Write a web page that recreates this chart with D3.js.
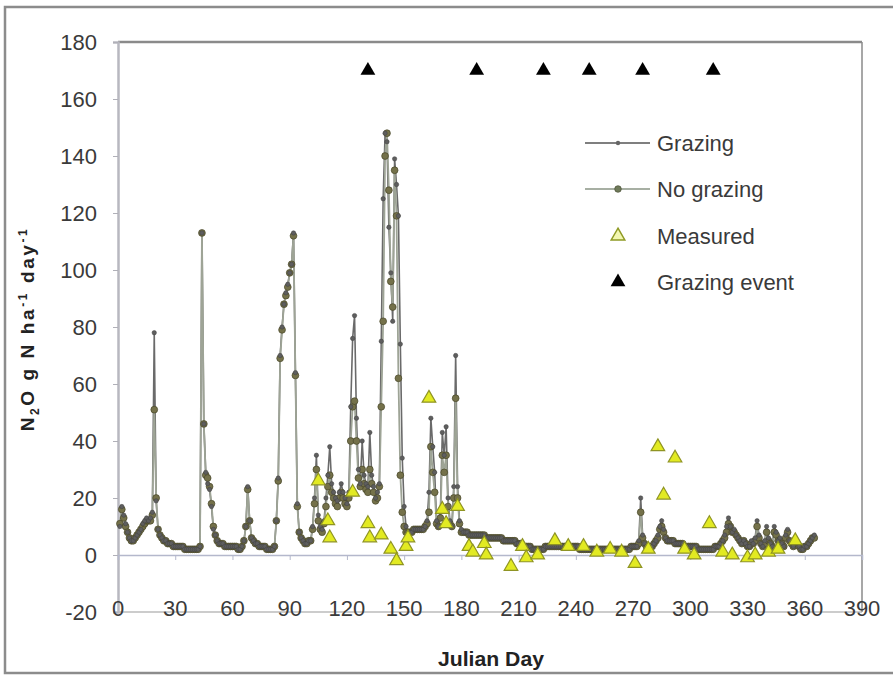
<!DOCTYPE html>
<html>
<head>
<meta charset="utf-8">
<script src="https://cdn.jsdelivr.net/npm/d3@7"></script>
<style>
  html, body { margin: 0; padding: 0; background: #fff; }
  svg { display: block; }
  text { font-family: "Liberation Sans", Arial, sans-serif; }
</style>
</head>
<body>
<svg id="chart" width="893" height="676"></svg>
<script>
// ---------------- DATA ----------------
const xTicks = [0, 30, 60, 90, 120, 150, 180, 210, 240, 270, 300, 330, 360, 390];
const yTicks = [-20, 0, 20, 40, 60, 80, 100, 120, 140, 160, 180];

// daily values, day 1 .. 365
const grazing = [
  10,17,14,11,8,6,5,5,6,7,
  8,9,11,12,13,12,13,15,78,19,
  9,7,6,5,5,4,4,4,3,3,
  3,3,3,3,2,2,2,2,2,2,
  2,2,3,113,46,29,25,23,17,9,
  7,5,4,4,4,3,3,3,3,3,
  3,3,2,2,3,5,10,24,12,6,
  5,4,4,3,3,3,3,2,2,2,
  2,3,12,27,70,80,88,92,95,99,
  102,113,64,18,8,6,5,4,4,5,
  5,10,20,35,14,10,9,12,20,28,
  38,25,22,20,19,22,25,22,20,18,
  22,52,76,84,48,30,25,40,28,25,
  24,43,28,24,20,22,25,75,125,148,
  145,115,99,82,139,130,119,74,34,17,
  10,8,8,8,9,9,9,9,9,9,
  10,12,22,48,38,29,12,10,15,43,
  35,45,20,12,10,24,70,24,12,9,
  8,8,8,7,7,7,7,7,7,7,
  7,7,6,6,6,6,6,6,6,6,
  6,5,5,5,5,5,5,5,4,4,
  4,3,3,3,3,3,2,2,2,2,
  2,2,2,3,3,3,3,3,3,3,
  3,3,3,3,3,3,3,3,3,3,
  3,2,2,2,2,2,2,2,2,2,
  2,2,2,2,2,2,2,2,2,2,
  2,2,2,2,2,2,2,2,3,3,
  3,3,5,20,7,4,3,3,3,3,
  4,5,7,10,12,9,6,5,5,5,
  5,4,4,4,4,4,3,3,3,3,
  3,3,3,2,2,2,2,2,2,2,
  2,2,3,3,3,4,5,7,10,13,
  10,8,9,7,6,5,4,5,4,3,
  3,5,4,6,12,7,4,3,5,10,
  6,4,3,10,8,5,6,4,3,7,
  9,5,4,3,6,4,3,2,2,3,
  3,4,5,6,7
];
const noGrazing = [
  11,16,13,10,8,6,5,5,6,7,
  8,9,10,11,12,12,12,14,51,20,
  9,7,6,5,5,4,4,4,3,3,
  3,3,3,3,2,2,2,2,2,2,
  2,2,3,113,46,28,27,24,18,10,
  7,5,4,4,4,3,3,3,3,3,
  3,3,2,2,3,5,10,23,12,6,
  5,4,4,3,3,3,3,2,2,2,
  2,3,12,26,69,79,88,91,94,99,
  102,112,63,17,8,6,5,4,4,5,
  5,9,18,30,12,9,8,11,17,24,
  28,22,20,18,17,20,22,20,18,17,
  20,40,52,54,40,27,24,30,25,23,
  22,30,25,22,19,20,24,52,82,140,
  148,128,96,87,135,119,62,28,15,10,
  8,8,8,8,9,9,9,9,9,9,
  10,11,15,38,29,22,11,10,13,35,
  29,35,17,11,10,20,55,20,11,8,
  8,8,8,7,7,7,7,7,7,7,
  7,7,6,6,6,6,6,6,6,6,
  6,5,5,5,5,5,5,5,4,4,
  4,3,3,3,3,3,2,2,2,2,
  2,2,2,3,3,3,3,3,3,3,
  3,3,3,3,3,3,3,3,3,3,
  3,2,2,2,2,2,2,2,2,2,
  2,2,2,2,2,2,2,2,2,2,
  2,2,2,2,2,2,2,2,3,3,
  3,3,4,15,6,4,3,3,3,3,
  4,5,6,9,10,8,6,5,5,5,
  5,4,4,4,4,4,3,3,3,3,
  3,3,3,2,2,2,2,2,2,2,
  2,2,3,3,3,4,5,6,8,11,
  10,8,8,7,6,5,4,5,4,3,
  3,4,4,5,10,6,4,3,4,8,
  5,4,3,8,7,5,5,4,3,6,
  8,5,4,3,5,4,3,2,2,3,
  3,4,5,6,6
];

const measuredDays   = [105,110,111,123,131,132,138,143,146,151,152,163,170,172,178,184,186,192,193,206,212,214,220,229,236,244,251,258,264,271,278,283,286,292,297,302,310,317,322,330,334,341,346,355];
const measuredValues = [ 26, 12,  6, 22, 11,  6,  7,  2, -2,  3,  6, 55, 16, 11, 17,  3,  1,  4,  0, -4,  3, -1,  0,  5,  3,  3,  1,  2,  1, -3,  2, 38, 21, 34,  2,  0, 11,  1,  0, -1,  0,  1,  2,  5];

const eventDays  = [131, 188, 223, 247, 275, 312];
const eventLevel = 170;

const legendLabels = ["Grazing", "No grazing", "Measured", "Grazing event"];

// ---------------- CHART ----------------
const svg = d3.select("#chart");
const x = d3.scaleLinear().domain([0, 390]).range([118, 862]);
const y = d3.scaleLinear().domain([-20, 180]).range([612, 42]);

// outer frame
svg.append("rect").attr("x", 5).attr("y", 7).attr("width", 893).attr("height", 666)
  .attr("fill", "#fff").attr("stroke", "#8c8c8c").attr("stroke-width", 2.5);

// plot box
svg.append("line").attr("x1", 118).attr("x2", 862).attr("y1", 42).attr("y2", 42)
  .attr("stroke", "#8a8a8a").attr("stroke-width", 2.5);
svg.append("line").attr("x1", 862).attr("x2", 862).attr("y1", 42).attr("y2", 612)
  .attr("stroke", "#8a8a8a").attr("stroke-width", 1.5);
svg.append("line").attr("x1", 118).attr("x2", 862).attr("y1", 612).attr("y2", 612)
  .attr("stroke", "#9a9a9a").attr("stroke-width", 1.2);

// y axis
const yAxis = svg.append("g").attr("transform", "translate(118,0)")
  .call(d3.axisLeft(y).tickValues(yTicks).tickSize(5).tickPadding(16).tickFormat(d => String(d)));
yAxis.select(".domain").attr("stroke", "#b8b8c0").attr("stroke-width", 2.5);
yAxis.selectAll(".tick line").attr("stroke", "#b0b0b8");
yAxis.selectAll(".tick text").attr("font-size", 22).attr("fill", "#3a3a3a")
  .style("font-family", "'Liberation Sans', Arial, sans-serif");

// x axis at y=0
const xAxis = svg.append("g").attr("transform", `translate(0,${y(0)})`)
  .call(d3.axisBottom(x).tickValues(xTicks).tickSize(5).tickFormat(""));
xAxis.select(".domain").attr("stroke", "#b4b8cc").attr("stroke-width", 1.5);
xAxis.selectAll(".tick line").attr("stroke", "#b4b8cc");

// x tick labels at bottom
svg.append("g").selectAll("text").data(xTicks).join("text")
  .attr("x", d => x(d)).attr("y", 616).attr("text-anchor", "middle")
  .attr("font-size", 22).attr("fill", "#3a3a3a").text(d => d);

// axis titles
svg.append("text").attr("x", 491).attr("y", 666).attr("text-anchor", "middle")
  .attr("font-size", 20).attr("font-weight", "bold").attr("fill", "#222")
  .attr("textLength", 106).attr("lengthAdjust", "spacingAndGlyphs")
  .text("Julian Day");

const yt = svg.append("text").attr("transform", "translate(34,329) rotate(-90)")
  .attr("text-anchor", "middle").attr("font-size", 19).attr("font-weight", "bold").attr("fill", "#222")
  .attr("letter-spacing", 2.6);
yt.append("tspan").text("N");
yt.append("tspan").attr("font-size", 12).attr("dy", 5).text("2");
yt.append("tspan").attr("dy", -5).text("O g N ha");
yt.append("tspan").attr("font-size", 12).attr("dy", -7).text("-1");
yt.append("tspan").attr("dy", 7).text(" day");
yt.append("tspan").attr("font-size", 12).attr("dy", -7).text("-1");

// series data
const days = d3.range(1, 366);
const gPts = days.map((d, i) => [d, grazing[i]]);
const nPts = days.map((d, i) => [d, noGrazing[i]]);
const line = d3.line().x(d => x(d[0])).y(d => y(d[1]));

svg.append("path").datum(gPts).attr("d", line).attr("fill", "none")
  .attr("stroke", "#6a6a6a").attr("stroke-width", 1.6);
svg.append("path").datum(nPts).attr("d", line).attr("fill", "none")
  .attr("stroke", "#9ea496").attr("stroke-width", 1.8);

svg.append("g").selectAll("circle").data(nPts).join("circle")
  .attr("cx", d => x(d[0])).attr("cy", d => y(d[1])).attr("r", 3.4)
  .attr("fill", "#74714a").attr("stroke", "#484628").attr("stroke-width", 0.7);
svg.append("g").selectAll("circle").data(gPts).join("circle")
  .attr("cx", d => x(d[0])).attr("cy", d => y(d[1])).attr("r", 2.2)
  .attr("fill", "#5e5e5e").attr("stroke", "#404040").attr("stroke-width", 0.5);

// measured triangles
const triM = d3.symbol(d3.symbolTriangle, 80);
svg.append("g").selectAll("path").data(measuredDays.map((d, i) => [d, measuredValues[i]])).join("path")
  .attr("d", triM).attr("transform", d => `translate(${x(d[0])},${y(d[1])})`)
  .attr("fill", "#e2ea22").attr("stroke", "#8f9424").attr("stroke-width", 1.2);

// grazing events
const triE = d3.symbol(d3.symbolTriangle, 95);
svg.append("g").selectAll("path").data(eventDays).join("path")
  .attr("d", triE).attr("transform", d => `translate(${x(d)},${y(eventLevel)})`)
  .attr("fill", "#000");

// legend
const lg = svg.append("g");
const lx0 = 585, lx1 = 650, lmx = 618, ltx = 657;
const rows = [143, 189, 236, 282];
lg.append("line").attr("x1", lx0).attr("x2", lx1).attr("y1", rows[0]).attr("y2", rows[0])
  .attr("stroke", "#555").attr("stroke-width", 1.5);
lg.append("circle").attr("cx", lmx).attr("cy", rows[0]).attr("r", 2.2).attr("fill", "#666");
lg.append("line").attr("x1", lx0).attr("x2", lx1).attr("y1", rows[1]).attr("y2", rows[1])
  .attr("stroke", "#8a9484").attr("stroke-width", 1.5);
lg.append("circle").attr("cx", lmx).attr("cy", rows[1]).attr("r", 3.3)
  .attr("fill", "#6f7a5a").attr("stroke", "#4c5238").attr("stroke-width", 0.7);
lg.append("path").attr("d", triM).attr("transform", `translate(${lmx},${rows[2]})`)
  .attr("fill", "#f2f7b0").attr("stroke", "#8f9a24").attr("stroke-width", 1.5);
lg.append("path").attr("d", triE).attr("transform", `translate(${lmx},${rows[3]})`)
  .attr("fill", "#000");
lg.selectAll("text.lab").data(legendLabels).join("text").attr("class", "lab")
  .attr("x", ltx).attr("y", (d, i) => rows[i] + 8).attr("font-size", 22).attr("fill", "#3a3a3a")
  .text(d => d);
</script>
</body>
</html>
